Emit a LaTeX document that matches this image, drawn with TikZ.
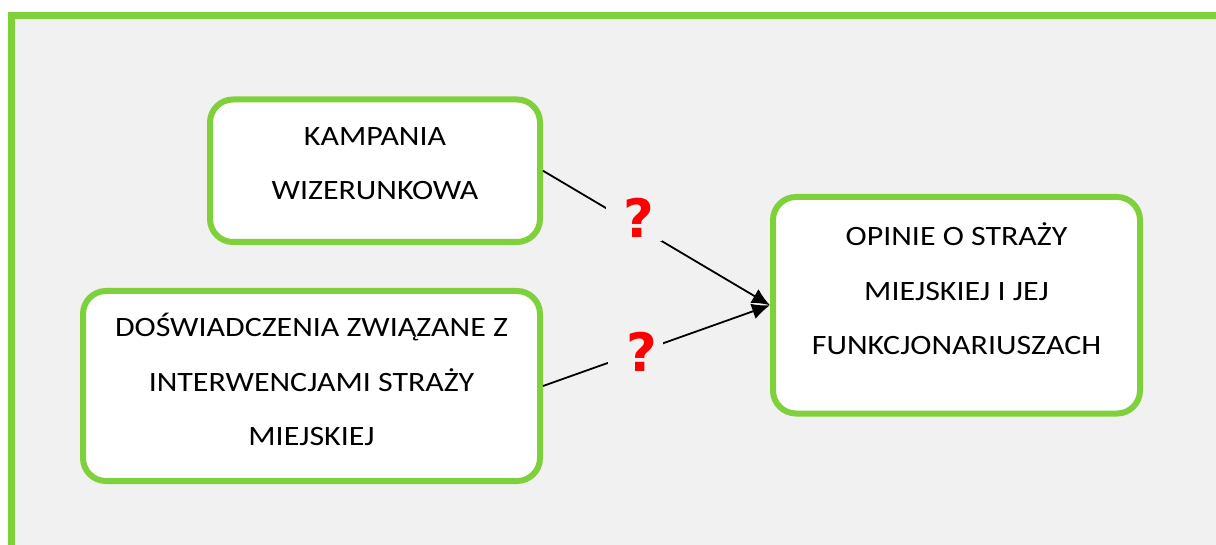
\documentclass[tikz,border=0pt]{standalone}
\usepackage{fontspec}
\setmainfont{Carlito}[FakeStretch=1.14]
\newfontfamily\qfont{DejaVu Sans}
\usetikzlibrary{arrows.meta}
\definecolor{frameg}{HTML}{7FD13B}
\definecolor{bggray}{HTML}{F1F1F1}
\definecolor{qred}{HTML}{FF0000}
\begin{document}
\begin{tikzpicture}[x=1pt,y=-1pt,
  box/.style={draw=frameg, line width=6pt, rounded corners=23pt, fill=white, inner sep=0pt},
  txt/.style={font=\fontsize{28}{54.5}\selectfont, align=center, anchor=base, inner sep=0pt},
  conn/.style={draw=black, line width=1.8pt, -{Latex[length=18pt,width=16pt]}},
  qmark/.style={fill=bggray, text=qred, font=\qfont\bfseries\fontsize{53}{53}\selectfont, inner sep=0pt}]
\useasboundingbox (0,0) rectangle (1216,545);
\fill[white] (0,0) rectangle (1216,545);
\begin{scope}
\clip (0,0) rectangle (1216,545);
\draw[frameg, line width=6.5pt, fill=bggray] (11.5,15.7) rectangle (1240,570);
\end{scope}
\node[box, minimum width=330pt, minimum height=142.5pt] (b1) at (375,170.75) {};
\node[box, minimum width=457pt, minimum height=190pt] (b2) at (311.5,386) {};
\node[box, minimum width=367pt, minimum height=216.5pt] (b3) at (956.5,305.25) {};
\node[txt] (t1) at (375,200) {KAMPANIA\\WIZERUNKOWA};
\node[txt] (t2) at (311.5,445.7) {DOŚWIADCZENIA ZWIĄZANE Z\\INTERWENCJAMI STRAŻY\\MIEJSKIEJ};
\node[txt] (t3) at (956.5,355) {OPINIE O STRAŻY\\MIEJSKIEJ I JEJ\\FUNKCJONARIUSZACH};
\draw[conn] (b1.east) -- (b3.west);
\draw[conn] (b2.east) -- (b3.west);
\node[qmark, minimum width=56pt, minimum height=46pt] (q1) at (634,218) {\hspace*{10pt}?};
\node[qmark, minimum width=55pt, minimum height=46pt] (q2) at (635.5,352) {\hspace*{12pt}?};
\end{tikzpicture}
\end{document}
